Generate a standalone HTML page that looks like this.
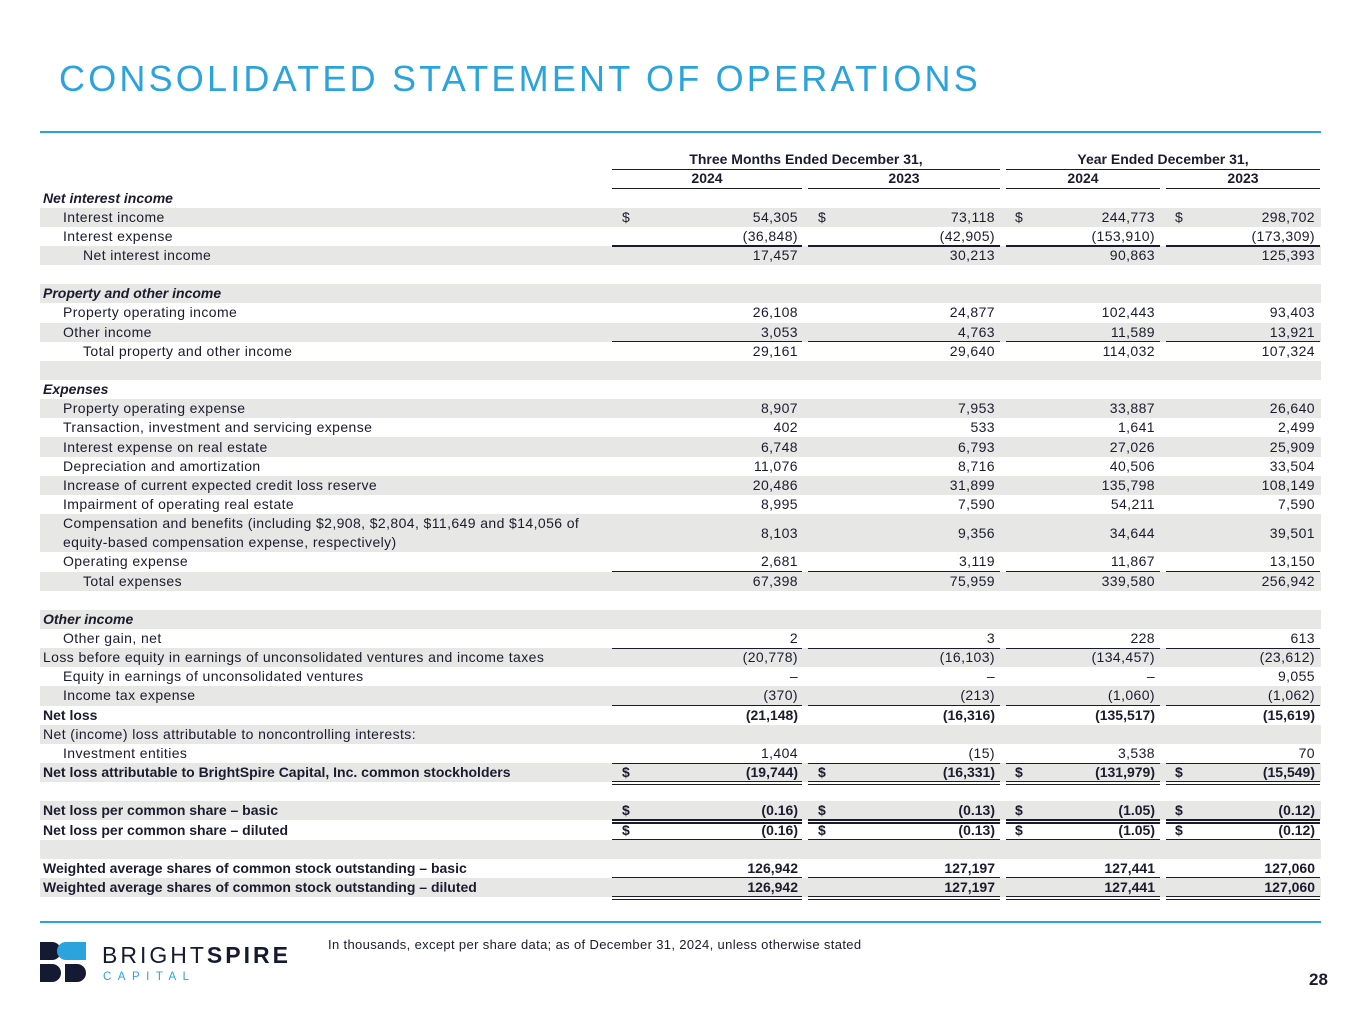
<!DOCTYPE html>
<html><head><meta charset="utf-8"><style>
body{margin:0;width:1365px;height:1024px;background:#fff;position:relative;overflow:hidden;font-family:"Liberation Sans",sans-serif;color:#1b1b2f}
.a{position:absolute;white-space:nowrap}
#title{left:59px;top:58px;font-size:36px;letter-spacing:3.2px;color:#2ba3dc;font-weight:normal}
.rule{position:absolute;left:40px;width:1281px;height:2px;background:#2ba3dc}
.sh{position:absolute;left:40px;width:1281px;background:#e7e7e5}
.t{font-size:14px;line-height:19px;letter-spacing:0.4px}
.b{font-weight:bold;letter-spacing:0}
.ln{position:absolute;height:1.3px;background:#1b1b2f}
</style></head><body>
<div id="title" class="a">CONSOLIDATED STATEMENT OF OPERATIONS</div>
<div class="rule" style="top:131px"></div>
<div class="rule" style="top:921px"></div>
<div id="tbl"></div>
<div class="a" style="left:328px;top:937px;font-size:13px;letter-spacing:0.35px">In thousands, except per share data; as of December 31, 2024, unless otherwise stated</div>
<div class="a" style="left:1309px;top:970px;font-size:17px;font-weight:bold">28</div>
<div class="a" style="left:40px;top:941px">
<svg width="270" height="45" viewBox="0 0 270 45">
<path d="M0 1h12a9 9 0 0 1 0 18H0z" fill="#151a33"/>
<path d="M26 1h20v18H26a9 9 0 0 1 0-18z" fill="#2ba3dc"/>
<path d="M0 23h12a9 9 0 0 1 0 18H0z" fill="#151a33"/>
<path d="M25 23h12a9 9 0 0 1 0 18H25z" fill="#151a33"/>
<text x="62" y="22" font-family="Liberation Sans" font-size="23" letter-spacing="3" fill="#151a33">BRIGHT<tspan font-weight="bold">SPIRE</tspan></text>
<text x="63" y="39" font-family="Liberation Sans" font-size="11.5" letter-spacing="6.5" fill="#2ba3dc">CAPITAL</text>
</svg></div>
<script>
const labels=["Net interest income","Interest income","Interest expense","Net interest income","","Property and other income","Property operating income","Other income","Total property and other income","","Expenses","Property operating expense","Transaction, investment and servicing expense","Interest expense on real estate","Depreciation and amortization","Increase of current expected credit loss reserve","Impairment of operating real estate","Compensation and benefits (including $2,908, $2,804, $11,649 and $14,056 of|equity-based compensation expense, respectively)","Operating expense","Total expenses","","Other income","Other gain, net","Loss before equity in earnings of unconsolidated ventures and income taxes","Equity in earnings of unconsolidated ventures","Income tax expense","Net loss","Net (income) loss attributable to noncontrolling interests:","Investment entities","Net loss attributable to BrightSpire Capital, Inc. common stockholders","","Net loss per common share – basic","Net loss per common share – diluted","","Weighted average shares of common stock outstanding – basic","Weighted average shares of common stock outstanding – diluted"];
const q4_2024=["","54,305","(36,848)","17,457","","","26,108","3,053","29,161","","","8,907","402","6,748","11,076","20,486","8,995","8,103","2,681","67,398","","","2","(20,778)","–","(370)","(21,148)","","1,404","(19,744)","","(0.16)","(0.16)","","126,942","126,942"];
const q4_2023=["","73,118","(42,905)","30,213","","","24,877","4,763","29,640","","","7,953","533","6,793","8,716","31,899","7,590","9,356","3,119","75,959","","","3","(16,103)","–","(213)","(16,316)","","(15)","(16,331)","","(0.13)","(0.13)","","127,197","127,197"];
const fy_2024=["","244,773","(153,910)","90,863","","","102,443","11,589","114,032","","","33,887","1,641","27,026","40,506","135,798","54,211","34,644","11,867","339,580","","","228","(134,457)","–","(1,060)","(135,517)","","3,538","(131,979)","","(1.05)","(1.05)","","127,441","127,441"];
const fy_2023=["","298,702","(173,309)","125,393","","","93,403","13,921","107,324","","","26,640","2,499","25,909","33,504","108,149","7,590","39,501","13,150","256,942","","","613","(23,612)","9,055","(1,062)","(15,619)","","70","(15,549)","","(0.12)","(0.12)","","127,060","127,060"];
const indent=[0,1,1,2,0,0,1,1,2,0,0,1,1,1,1,1,1,1,1,2,0,0,1,0,1,1,0,0,1,0,0,0,0,0,0,0];
const headerRows=[0,5,10,21];
const boldRows=[26,29,31,32,34,35];
const dollarRows=[1,29,31,32];
const topLine=[3,8,19,23,26,29];
const dblLine=[29,31,32,34,35];
const cols=[[612,802,622,798],[808,1000,818,995],[1006,1160,1015,1155],[1166,1320,1175,1315]];
const series=[q4_2024,q4_2023,fy_2024,fy_2023];
const T=document.getElementById('tbl');
const U=19.15,Y0=188.5;
function mk(cls,st,txt){const d=document.createElement('div');d.className=cls;d.setAttribute('style',st);if(txt!==undefined)d.textContent=txt;T.appendChild(d);return d;}
let h=mk('a t b','left:612px;width:388px;top:150px;text-align:center','Three Months Ended December 31,');


h=mk('a t b','left:1006px;width:314px;top:150px;text-align:center','Year Ended December 31,');


mk('ln','left:612px;width:388px;top:169px');mk('ln','left:1006px;width:314px;top:169px');
const yrs=["2024","2023","2024","2023"];
cols.forEach((c,i)=>{const y=mk('a t b','left:'+c[0]+'px;width:'+(c[1]-c[0])+'px;top:169px;text-align:center',yrs[i]);


mk('ln','left:'+c[0]+'px;width:'+(c[1]-c[0])+'px;top:188px');});
let u=0;
labels.forEach((lab,i)=>{
 const n=lab.includes('|')?2:1;const top=Y0+u*U,ht=n*U;
 if(i%2===1)mk('sh','top:'+top+'px;height:'+ht+'px');
 const bold=boldRows.includes(i),hd=headerRows.includes(i);
 const cl=(bold||hd)?'a t b':'a t';const fs=hd?'font-style:italic;':'';
 const cy=top+ht/2;
 if(lab){
  const parts=lab.split('|');
  const l=mk(cl,'left:'+(43+indent[i]*20)+'px;top:'+(cy-9.5*parts.length)+'px;'+fs);
  l.innerHTML=parts.join('<br>');
  
  
 }
 cols.forEach((c,k)=>{
  const v=series[k][i];
  if(v){const d=mk(cl,'right:'+(1365-c[3])+'px;top:'+(cy-9.5)+'px;',v);
   
   }
  if(dollarRows.includes(i)){const d=mk(cl,'left:'+c[2]+'px;top:'+(cy-9.5)+'px;','$');
   
   }
  if(topLine.includes(i))mk('ln','left:'+c[0]+'px;width:'+(c[1]-c[0])+'px;top:'+(top-0.5)+'px');
  if(dblLine.includes(i)){mk('ln','left:'+c[0]+'px;width:'+(c[1]-c[0])+'px;top:'+(top+ht-1)+'px');
   mk('ln','left:'+c[0]+'px;width:'+(c[1]-c[0])+'px;top:'+(top+ht+2)+'px');}
 });
 u+=n;
});
</script>
</body></html>
